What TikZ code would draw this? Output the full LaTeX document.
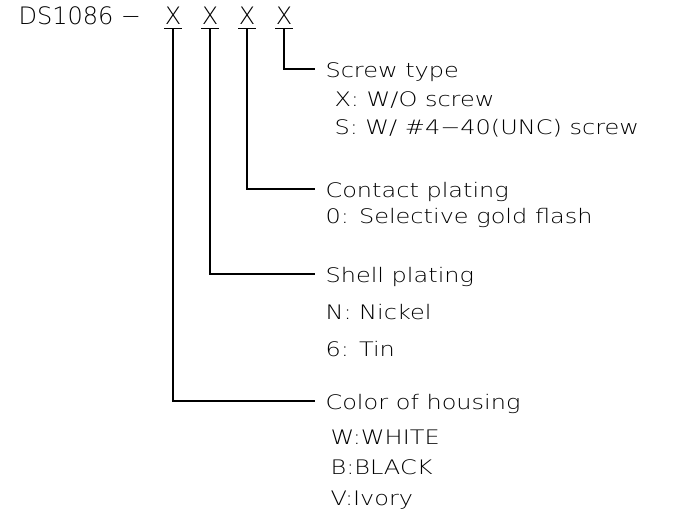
\documentclass[tikz,border=0pt]{standalone}
\usepackage{fontspec}
\setmainfont{DejaVu Sans ExtraLight}[FakeStretch=1.2]
\newfontfamily\titlefont{DejaVu Sans ExtraLight}
\usetikzlibrary{positioning}

\begin{document}
\begin{tikzpicture}[x=1pt,y=-1pt,line width=1.1pt,
  partno/.style={anchor=base,inner sep=0pt,text depth=3pt,font=\titlefont\fontsize{24}{28}\selectfont},
  headlbl/.style={anchor=base west,inner xsep=10pt,inner ysep=0pt,text height=18pt,text depth=0pt,font=\fontsize{20}{24}\selectfont},
  sublbl/.style={anchor=base west,inner sep=0pt,font=\fontsize{20}{24}\selectfont}]
\useasboundingbox (0,0) rectangle (675,518);
\node[partno,anchor=base west] (title) at (18,25) {DS1086 −};
\node[partno] (x1) at (173,25) {X};
\node[partno] (x2) at (210,25) {X};
\node[partno] (x3) at (247,25) {X};
\node[partno] (x4) at (284,25) {X};
\node[headlbl] (screw) at (315,78) {Screw type};
\node[sublbl] (screw1) at (334,107) {X: W/O screw};
\node[sublbl] (screw2) at (334,135) {S: W/ \#4−40(UNC) screw};
\node[headlbl] (contact) at (315,198) {Contact plating};
\node[sublbl] (contact1) at (325,224) {0: Selective gold flash};
\node[headlbl] (shell) at (315,283) {Shell plating};
\node[sublbl] (shell1) at (325,320) {N: Nickel};
\node[sublbl] (shell2) at (325,357) {6: Tin};
\node[headlbl] (color) at (315,410) {Color of housing};
\node[sublbl] (color1) at (330,445) {W:WHITE};
\node[sublbl] (color2) at (330,475) {B:BLACK};
\node[sublbl] (color3) at (330,505) {V:Ivory};
% underlines and leaders
\foreach \n in {x1,x2,x3,x4}
  \draw (\n.south west) -- (\n.south east);
\draw (x4.south) |- (screw.west);
\draw (x3.south) |- (contact.west);
\draw (x2.south) |- (shell.west);
\draw (x1.south) |- (color.west);
\end{tikzpicture}
\end{document}
